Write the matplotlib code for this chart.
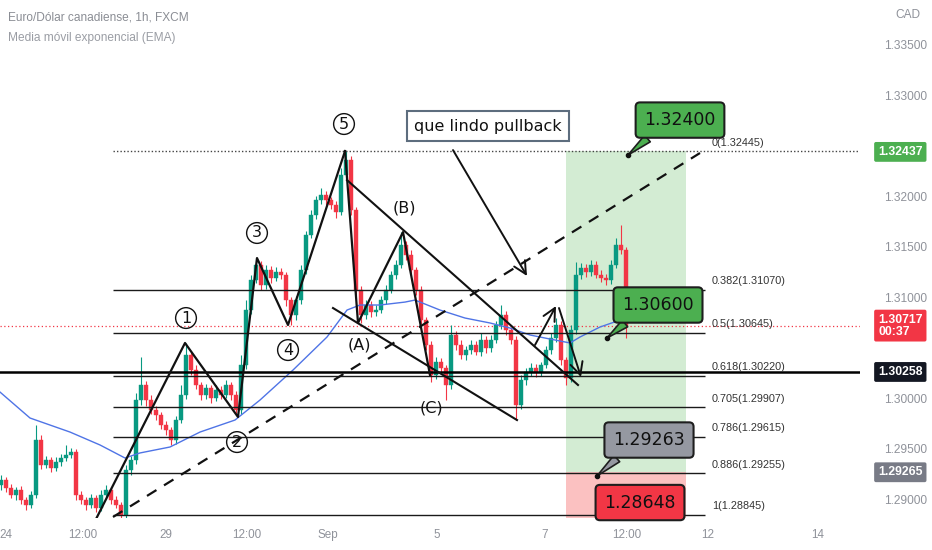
import matplotlib
matplotlib.use("Agg")
import matplotlib.pyplot as plt
from matplotlib.patches import Rectangle

# ---------------- data (bar index, price) ----------------
first_open = 1.29140
closes = [
    1.29188, 1.29109, 1.29040, 1.29089, 1.28990, 1.28941, 1.29040, 1.29584, 1.29337, 1.29386,
    1.29307, 1.29366, 1.29406, 1.29436, 1.29465, 1.29040, 1.28990, 1.28941, 1.29010, 1.28911,
    1.29040, 1.29089, 1.28990, 1.28941, 1.28842, 1.29287, 1.29386, 1.29980, 1.30129, 1.29980,
    1.29881, 1.29832, 1.29733, 1.29683, 1.29584, 1.29782, 1.30030, 1.30426, 1.30277, 1.30129,
    1.30030, 1.30099, 1.30000, 1.30079, 1.30030, 1.30129, 1.30030, 1.29881, 1.30327, 1.30871,
    1.31168, 1.31317, 1.31119, 1.31267, 1.31188, 1.31247, 1.31218, 1.30970, 1.30822, 1.30970,
    1.31267, 1.31614, 1.31812, 1.31960, 1.32010, 1.31960, 1.31911, 1.31841, 1.32208, 1.32356,
    1.31861, 1.31069, 1.30822, 1.30921, 1.30851, 1.30871, 1.30970, 1.31069, 1.31218, 1.31317,
    1.31515, 1.31416, 1.31267, 1.31069, 1.30772, 1.30525, 1.30228, 1.30356, 1.30297, 1.30129,
    1.30624, 1.30525, 1.30426, 1.30475, 1.30525, 1.30455, 1.30574, 1.30495, 1.30574, 1.30723,
    1.30822, 1.30673, 1.30574, 1.29931, 1.30178, 1.30257, 1.30297, 1.30257, 1.30327, 1.30475,
    1.30594, 1.30723, 1.30376, 1.30198, 1.30673, 1.31218, 1.31287, 1.31247, 1.31317, 1.31218,
    1.31188, 1.31168, 1.31317, 1.31515, 1.31465, 1.30717,
]
# wick lengths in pips (0.0001)
wick_up = [
    5, 3, 4, 3, 4, 3, 4, 15, 5, 4,
    3, 5, 4, 10, 4, 3, 4, 3, 4, 3,
    5, 5, 3, 4, 3, 5, 4, 7, 28, 4,
    5, 4, 3, 4, 3, 4, 10, 12, 4, 5,
    3, 4, 3, 5, 4, 5, 3, 4, 10, 10,
    5, 7, 4, 5, 4, 5, 4, 3, 3, 4,
    5, 4, 5, 4, 7, 4, 3, 4, 7, 9,
    4, 3, 4, 5, 4, 5, 4, 5, 4, 5,
    13, 4, 5, 3, 4, 3, 4, 5, 4, 3,
    10, 4, 5, 4, 5, 4, 7, 4, 5, 4,
    10, 4, 3, 4, 5, 4, 5, 4, 3, 4,
    5, 7, 4, 3, 5, 13, 5, 4, 5, 4,
    5, 4, 5, 7, 20, 3,
]
wick_dn = [
    5, 4, 3, 5, 4, 5, 3, 3, 4, 3,
    4, 3, 4, 3, 3, 5, 4, 5, 3, 4,
    3, 4, 4, 3, 3, 4, 5, 4, 5, 6,
    4, 5, 4, 5, 5, 4, 3, 4, 5, 4,
    5, 4, 5, 3, 4, 3, 5, 5, 4, 4,
    4, 3, 5, 4, 5, 3, 4, 6, 10, 5,
    4, 4, 3, 4, 4, 5, 4, 6, 3, 4,
    5, 5, 8, 4, 5, 4, 3, 4, 3, 4,
    3, 5, 4, 5, 4, 5, 7, 4, 5, 15,
    4, 5, 4, 5, 4, 3, 4, 5, 4, 3,
    4, 5, 4, 15, 4, 5, 4, 5, 4, 3,
    4, 4, 5, 7, 4, 4, 4, 5, 4, 3,
    4, 5, 4, 3, 4, 12,
]

ema_bars = [-0.2, 5.8, 13.8, 19.8, 24.8, 27.8, 33.8, 39.8, 46.8, 51.8, 58.4, 65.2, 69.2,
            71.8, 75.8, 80.8, 82.8, 87.8, 92.8, 97.8, 101.8, 105.8, 108.8, 113.8, 115.8,
            119.8, 125.0]
ema_vals = [1.30059, 1.29802, 1.29663, 1.29535, 1.29406, 1.29456, 1.29515, 1.29663, 1.29782,
            1.29980, 1.30277, 1.30604, 1.30871, 1.30921, 1.30921, 1.30950, 1.30970, 1.30871,
            1.30792, 1.30743, 1.30693, 1.30624, 1.30594, 1.30545, 1.30604, 1.30703, 1.30792]

impulse_bars = [18.2, 36.8, 47.4, 51.2, 57.4, 68.8]
impulse_prices = [1.28723, 1.30545, 1.29812, 1.31386, 1.30723, 1.32445]
abc_bars = [68.8, 71.4, 80.4, 85.8]
abc_prices = [1.32445, 1.30743, 1.31643, 1.30228]
wedge_up_bars = [69.2, 115.4]
wedge_up_prices = [1.32158, 1.30129]
wedge_lo_bars = [66.4, 103.2]
wedge_lo_prices = [1.30891, 1.29782]
trend_bars = [22.4, 139.8]
trend_prices = [1.28822, 1.32426]

arrows = [  # (start bar, start price, end bar, end price)
    (90.4, 1.32455, 105.2, 1.31208),
    (106.8, 1.30525, 111.0, 1.30911),
    (111.6, 1.30891, 116.0, 1.30208),
]

wave_labels = ["1", "2", "3", "4", "5"]
wave_label_bars = [37.0, 47.2, 51.2, 57.4, 68.6]
wave_label_prices = [1.30792, 1.29564, 1.31634, 1.30475, 1.32713]
abc_labels = ["(A)", "(B)", "(C)"]
abc_label_bars = [71.6, 80.6, 86.0]
abc_label_prices = [1.30525, 1.31881, 1.29901]

fib_ratios = ["0", "0.382", "0.5", "0.618", "0.705", "0.786", "0.886", "1"]
fib_prices = [1.32445, 1.31070, 1.30645, 1.30220, 1.29907, 1.29615, 1.29255, 1.28845]
fib_bars = [22.4, 140.8]

pos_bars = [113.0, 137.0]
pos_target = 1.32445
pos_entry = 1.29263
pos_stop = 1.28648

callout_texts = ["1.32400", "1.30600", "1.29263", "1.28648"]
callout_colors = ["#4caf50", "#4caf50", "#9598a1", "#f23645"]
callout_box_bars = [135.8, 131.4, 129.6, 127.8]
callout_box_prices = [1.32752, 1.30921, 1.29584, 1.28965]
callout_tip_bars = [125.4, 121.2, 119.2, None]
callout_tip_prices = [1.32406, 1.30594, 1.29228, None]

last_price = 1.30717
support_price = 1.30258
axis_tags = [("1.32437", 1.32437, "#4caf50"), ("1.30717\n00:37", 1.30717, "#f23645"),
             ("1.30258", 1.30258, "#131722"), ("1.29265", 1.29265, "#787b86")]

price_ticks = [1.335, 1.330, 1.320, 1.315, 1.310, 1.300, 1.295, 1.290]
time_tick_bars = [1.0, 16.4, 33.0, 49.2, 65.4, 87.2, 108.8, 125.2, 141.4, 163.4]
time_tick_labels = ["24", "12:00", "29", "12:00", "Sep", "5", "7", "12:00", "12", "14"]

# ---------------- figure ----------------
W, H = 932, 550
fig = plt.figure(figsize=(W / 100, H / 100), dpi=100)
fig.patch.set_facecolor("white")
ax = fig.add_axes([0, 32 / H, 860 / W, 518 / H])
ax.set_xlim(-0.2, 171.8)
ax.set_ylim(1.28812, 1.33941)
for s in ax.spines.values():
    s.set_visible(False)

UP, DN = "#089981", "#f23645"
opens = [first_open] + closes[:-1]
for i, (o, c) in enumerate(zip(opens, closes)):
    col = UP if c >= o else DN
    hi = max(o, c) + wick_up[i] * 0.0001
    lo = min(o, c) - wick_dn[i] * 0.0001
    ax.vlines(i, lo, hi, color=col, lw=0.8, zorder=2)
    h = abs(c - o)
    if h < 0.00006:
        h = 0.00006
    ax.add_patch(Rectangle((i - 0.32, min(o, c)), 0.64, h, facecolor=col, edgecolor=col,
                           lw=0.3, zorder=2.1))

ax.plot(ema_bars, ema_vals, color="#4f74e6", lw=1.0, zorder=2.5)

# position box
ax.add_patch(Rectangle((pos_bars[0], pos_entry), pos_bars[1] - pos_bars[0], pos_target - pos_entry,
                       facecolor="#d3ecd3", edgecolor="none", zorder=0.5))
ax.add_patch(Rectangle((pos_bars[0], pos_stop), pos_bars[1] - pos_bars[0], pos_entry - pos_stop,
                       facecolor="#fbc1c1", edgecolor="none", zorder=0.5))

# horizontal lines
ax.axhline(last_price, color="#f23645", ls=(0, (1, 2)), lw=0.9, zorder=1.5)
ax.axhline(support_price, color="#000000", lw=1.8, zorder=3)
ax.hlines(fib_prices[0], fib_bars[0], 171.8, colors="#444444", linestyles=(0, (1, 1.5)), lw=1.0, zorder=3)
ax.hlines(fib_prices[1:], fib_bars[0], fib_bars[1], colors="#1a1a1a", lw=1.0, zorder=3)
for r, p in zip(fib_ratios, fib_prices):
    ax.text(fib_bars[1] + 1.4, p + 0.00035, f"{r}({p:.5f})", fontsize=7.8, color="#333333",
            family=["Liberation Sans Narrow", "Liberation Sans"], ha="left", va="bottom", zorder=4)

# wave drawings
ax.plot(impulse_bars, impulse_prices, color="#111111", lw=1.6, zorder=3.5)
ax.plot(abc_bars, abc_prices, color="#111111", lw=1.6, zorder=3.5)
ax.plot(wedge_up_bars, wedge_up_prices, color="#111111", lw=1.5, zorder=3.5)
ax.plot(wedge_lo_bars, wedge_lo_prices, color="#111111", lw=1.5, zorder=3.5)
ax.plot(trend_bars, trend_prices, color="#111111", lw=1.6, ls=(0, (5, 4)), zorder=3.5)
for (x0, y0, x1, y1) in arrows:
    ax.annotate("", xy=(x1, y1), xytext=(x0, y0),
                arrowprops=dict(arrowstyle="->,head_length=0.9,head_width=0.45", lw=1.4,
                                color="#111111", shrinkA=0, shrinkB=0), zorder=3.6)

for t, b, p in zip(wave_labels, wave_label_bars, wave_label_prices):
    ax.text(b, p, t, ha="center", va="center", fontsize=11.5, color="#111111", zorder=4,
            bbox=dict(boxstyle="circle,pad=0.18", fc="none", ec="#111111", lw=1.0))
for t, b, p in zip(abc_labels, abc_label_bars, abc_label_prices):
    ax.text(b, p, t, ha="center", va="center", fontsize=11.5, color="#111111", zorder=4)

ax.text(97.4, 1.32693, "que lindo pullback", ha="center", va="center", fontsize=11.5,
        color="#111111", zorder=5,
        bbox=dict(boxstyle="square,pad=0.45", fc="white", ec="#5d6d7e", lw=1.5))

# callouts
for t, col, bb, bp, tb, tp in zip(callout_texts, callout_colors, callout_box_bars,
                                   callout_box_prices, callout_tip_bars, callout_tip_prices):
    bbox = dict(boxstyle="round,pad=0.5,rounding_size=0.25", fc=col, ec="#1e1e1e", lw=1.5)
    if tb is None:
        ax.text(bb, bp, t, ha="center", va="center", fontsize=12.5, color="#111111",
                bbox=bbox, zorder=6)
    else:
        ax.annotate(t, xy=(tb, tp), xytext=(bb, bp), ha="center", va="center", fontsize=12.5,
                    color="#111111", bbox=bbox, zorder=6,
                    arrowprops=dict(arrowstyle="wedge,tail_width=0.5,shrink_factor=0.5",
                                    fc=col, ec="#1e1e1e", lw=1.2, relpos=(0.2, 0.0),
                                    shrinkA=0, shrinkB=0))
        ax.plot([tb], [tp], "o", ms=3, color="#111111", zorder=6)

# axes ticks
ax.yaxis.tick_right()
ax.set_yticks(price_ticks)
ax.set_yticklabels([f"{v:.5f}" for v in price_ticks])
ax.tick_params(axis="y", length=0, pad=17, labelsize=8.6, labelcolor="#8f929a")
ax.set_xticks(time_tick_bars)
ax.set_xticklabels(time_tick_labels)
ax.tick_params(axis="x", length=0, pad=8, labelsize=8.4, labelcolor="#8f929a")
for lab in ax.get_xticklabels() + ax.get_yticklabels():
    lab.set_family("Liberation Sans")

ytr = ax.get_yaxis_transform()
for t, p, col in axis_tags:
    ax.text(1.021, p, t, transform=ytr, ha="left", va="center", fontsize=8.8, color="white",
            family="Liberation Sans", fontweight="bold", clip_on=False, zorder=7,
            linespacing=1.0,
            bbox=dict(boxstyle="round,pad=0.32,rounding_size=0.15", fc=col, ec="none"))

fig.text(895 / W, 1 - 15 / H, "CAD", fontsize=8.6, color="#8f929a", ha="left", va="center",
         family="Liberation Sans")
fig.text(8 / W, 1 - 18 / H, "Euro/Dólar canadiense, 1h, FXCM", fontsize=8.6, color="#8a8d94",
         ha="left", va="center", family="Liberation Sans")
fig.text(8 / W, 1 - 38 / H, "Media móvil exponencial (EMA)", fontsize=8.6, color="#9a9da4",
         ha="left", va="center", family="Liberation Sans")

fig.savefig("out.png", dpi=100)
